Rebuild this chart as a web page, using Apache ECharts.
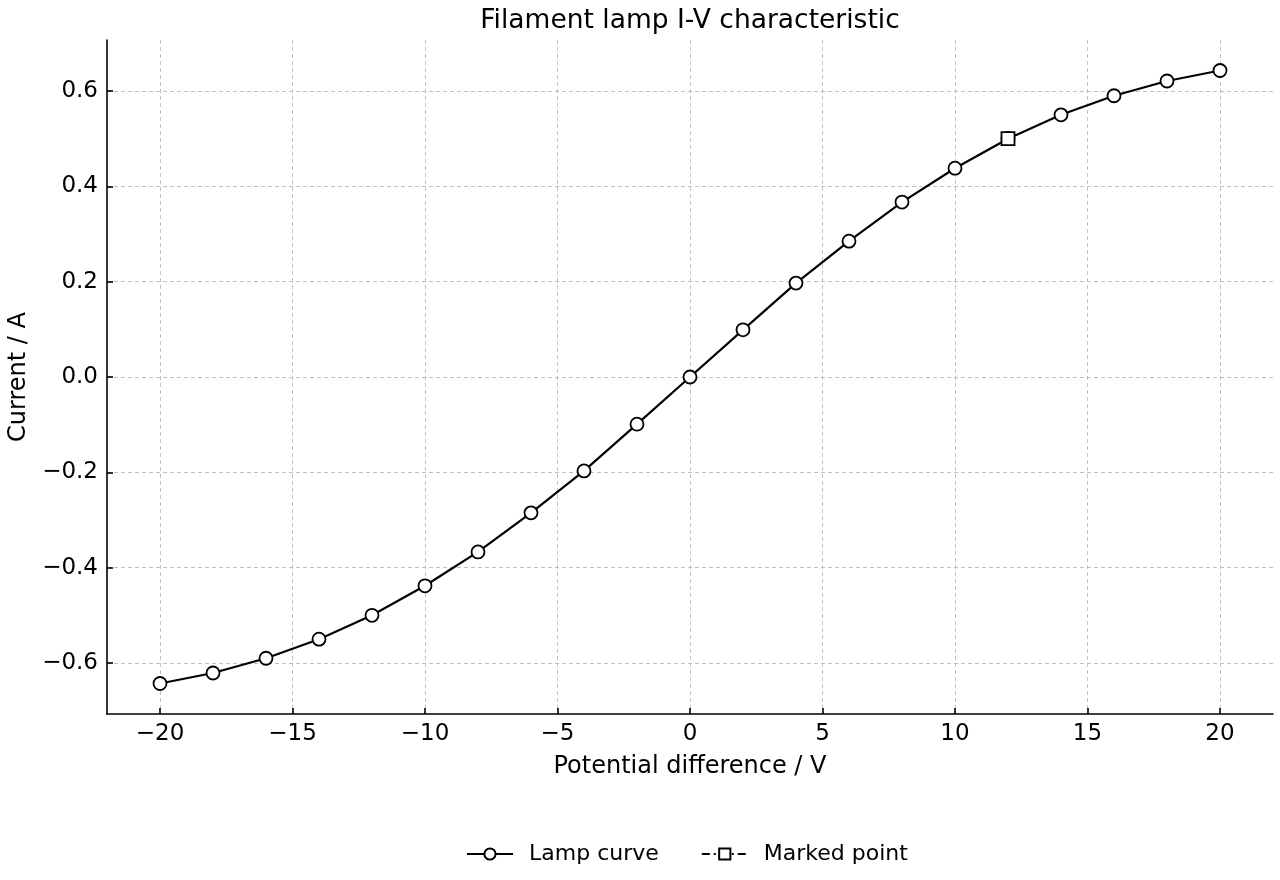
<!DOCTYPE html>
<html>
<head>
<meta charset="utf-8">
<title>Filament lamp I-V characteristic</title>
<script src="https://cdn.jsdelivr.net/npm/echarts@6/dist/echarts.min.js"></script>
<style>
  html, body { margin: 0; padding: 0; background: #fff; }
  #chart { width: 1280px; height: 880px; }
</style>
</head>
<body>
<div id="chart"></div>
<script>
// potential difference (V) and measured current (A)
const voltage = [-20, -18, -16, -14, -12, -10, -8, -6, -4, -2, 0, 2, 4, 6, 8, 10, 12, 14, 16, 18, 20];
const current = [-0.643, -0.621, -0.590, -0.550, -0.500, -0.438, -0.367, -0.285, -0.197, -0.099, 0,
                 0.099, 0.197, 0.285, 0.367, 0.438, 0.500, 0.550, 0.590, 0.621, 0.643];
const markedPoint = [12, 0.5];
const xTicks = [-20, -15, -10, -5, 0, 5, 10, 15, 20];
const yTicks = [-0.6, -0.4, -0.2, 0, 0.2, 0.4, 0.6];

const font = 'DejaVu Sans';
const minus = s => String(s).replace('-', '\u2212');

let myChart = echarts.init(document.getElementById('chart'));

let lampData = [];
for (let i = 0; i < voltage.length; i++) {
  lampData.push([voltage[i], current[i]]);
}

let option = {
  animation: false,
  title: {
    text: 'Filament lamp I-V characteristic',
    left: 685,
    textAlign: 'center',
    top: 3,
    textStyle: { fontFamily: font, fontSize: 26.5, fontWeight: 'normal', color: '#000' }
  },
  grid: { left: 107, right: 7, top: 40, bottom: 166, outerBoundsMode: 'none' },
  legend: {
    top: 838,
    left: 461,
    itemWidth: 46,
    itemHeight: 14,
    itemGap: 42,
    textStyle: { fontFamily: font, fontSize: 22, color: '#000', padding: [0, 0, 0, 11] },
    data: ['Lamp curve', 'Marked point']
  },
  xAxis: {
    type: 'value',
    min: -22,
    max: 22,
    name: 'Potential difference / V',
    nameLocation: 'middle',
    nameGap: 41,
    nameTextStyle: { fontFamily: font, fontSize: 24, color: '#000' },
    axisLine: { onZero: false, lineStyle: { color: '#000', width: 1.6 } },
    axisTick: { inside: true, length: 6, customValues: xTicks, lineStyle: { color: '#000', width: 1.6 } },
    axisLabel: {
      customValues: xTicks,
      margin: 9,
      fontFamily: font, fontSize: 23, color: '#000',
      formatter: v => minus(v)
    },
    splitLine: { show: true, lineStyle: { color: '#b0b0b0', type: [4, 3], width: 0.8 } }
  },
  yAxis: {
    type: 'value',
    min: -0.707,
    max: 0.707,
    name: 'Current / A',
    nameLocation: 'middle',
    nameGap: 75,
    nameTextStyle: { fontFamily: font, fontSize: 24, color: '#000' },
    axisLine: { show: true, onZero: false, lineStyle: { color: '#000', width: 1.6 } },
    axisTick: { show: true, inside: true, length: 6, customValues: yTicks, lineStyle: { color: '#000', width: 1.6 } },
    axisLabel: {
      customValues: yTicks,
      margin: 9,
      fontFamily: font, fontSize: 23, color: '#000',
      formatter: v => minus(v.toFixed(1))
    },
    splitLine: { show: true, lineStyle: { color: '#b0b0b0', type: [4, 3], width: 0.8 } }
  },
  series: [
    {
      name: 'Lamp curve',
      type: 'line',
      data: lampData,
      symbol: 'circle',
      symbolSize: 13,
      showAllSymbol: true,
      lineStyle: { color: '#000', width: 2.2 },
      itemStyle: { color: '#fff', borderColor: '#000', borderWidth: 1.8 },
      z: 3
    },
    {
      name: 'Marked point',
      type: 'line',
      data: [markedPoint],
      symbol: 'rect',
      symbolSize: 13,
      lineStyle: { color: '#000', width: 2.2, type: [8, 4, 2, 4] },
      itemStyle: { color: '#fff', borderColor: '#000', borderWidth: 1.8 },
      z: 4
    }
  ]
};

myChart.setOption(option);
</script>
</body>
</html>
